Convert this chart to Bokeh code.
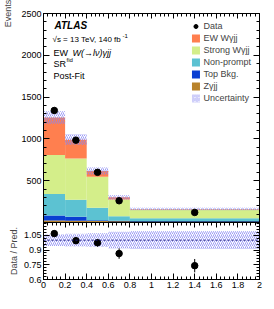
import math
from bokeh.plotting import figure
from bokeh.layouts import column
from bokeh.models import (ColumnDataSource, Label, Legend, LegendItem, LinearAxis,
                          FixedTicker, Range1d, Span)
from bokeh.embed import file_html
from bokeh.resources import INLINE

# ---------------- data ----------------
bin_lo = [0.0, 0.2, 0.4, 0.6, 0.8]
bin_hi = [0.2, 0.4, 0.6, 0.8, 2.0]
bin_center = [0.1, 0.3, 0.5, 0.7, 1.4]
zgamma = [25, 22, 18, 15, 10]
top_bkg = [60, 46, 8, 6, 4]
non_prompt = [256, 204, 150, 55, 38]
strong = [465, 493, 370, 200, 104]
ew = [450, 225, 70, 25, 6]
data = [1340, 985, 600, 260, 120]
data_err = [37, 31, 24, 16, 11]
syst_rel = [0.06, 0.065, 0.07, 0.085, 0.09]

main_yticks = [0, 500, 1000, 1500, 2000, 2500]
main_ylabels = ["", "500", "1000", "1500", "2000", "2500"]
ratio_yticks = [0.6, 0.75, 0.9, 1.05]
ratio_ylabels = ["0.6", "0.75", "0.9", "1.05"]
xticks = [0, 0.2, 0.4, 0.6, 0.8, 1.0, 1.2, 1.4, 1.6, 1.8, 2.0]
xlabels = ["0", "0.2", "0.4", "0.6", "0.8", "1", "1.2", "1.4", "1.6", "1.8", "2"]

names = ["Zγjj", "Top Bkg.", "Non-prompt", "Strong Wγjj", "EW Wγjj"]
colors = ["#b8822b", "#0a3fd2", "#5cc2d2", "#d4ee8a", "#ff7f4f"]
layers = [zgamma, top_bkg, non_prompt, strong, ew]

FONT = "Liberation Sans"
FS = "9px"
HATCH = "#8484f2"

x_minor = [i * 0.04 for i in range(51)]
main_minor = list(range(0, 2501, 100))
ratio_minor = [0.6 + i * 0.03 for i in range(20)]

# ---------------- main panel ----------------
p = figure(width=274, height=222, output_backend="svg", toolbar_location=None,
           x_range=Range1d(0, 2), y_range=Range1d(0, 2500),
           min_border_left=39, min_border_right=15, min_border_top=13, min_border_bottom=0)
p.grid.visible = False
p.outline_line_color = "black"

cum = [0.0] * len(bin_lo)
layer_renderers = []
for vals, col in zip(layers, colors):
    bottom = list(cum)
    top = [c + v for c, v in zip(cum, vals)]
    src = ColumnDataSource(dict(left=bin_lo, right=bin_hi, bottom=bottom, top=top))
    rr_ = p.quad(left="left", right="right", bottom="bottom", top="top", source=src,
                 fill_color=col, line_color=None)
    layer_renderers.append(rr_)
    cum = top
total = cum

band_src = ColumnDataSource(dict(left=bin_lo, right=bin_hi,
                                 bottom=[t * (1 - u) for t, u in zip(total, syst_rel)],
                                 top=[t * (1 + u) for t, u in zip(total, syst_rel)]))
band_r = p.quad(left="left", right="right", bottom="bottom", top="top", source=band_src,
                fill_alpha=0, line_color=None, hatch_pattern="/", hatch_color=HATCH,
                hatch_scale=4, hatch_weight=0.8)

dsrc = ColumnDataSource(dict(x=bin_center, y=data,
                             lo=[d - e for d, e in zip(data, data_err)],
                             hi=[d + e for d, e in zip(data, data_err)]))
p.segment(x0="x", x1="x", y0="lo", y1="hi", source=dsrc, line_color="black", line_width=1)
data_r = p.scatter(x="x", y="y", source=dsrc, size=6.5, color="black")


def style_axis(ax, ticks, labels=None):
    ax.axis_line_color = "black"
    ax.major_tick_in = 6
    ax.major_tick_out = 0
    ax.minor_tick_in = 3
    ax.minor_tick_out = 0
    ax.major_tick_line_color = "black"
    ax.minor_tick_line_color = "black"
    ax.major_label_text_font = FONT
    ax.major_label_text_color = "black"
    if "background_fill_alpha" in ax.properties():
        ax.background_fill_alpha = 0
    if labels is None:
        ax.major_label_overrides = {t: "" for t in ticks}
        ax.major_label_text_font_size = "1px"
        ax.major_label_standoff = 0
    else:
        ax.major_label_overrides = {t: l for t, l in zip(ticks, labels)}
        ax.major_label_text_font_size = FS
        ax.major_label_standoff = 2


p.yaxis.ticker = FixedTicker(ticks=main_yticks, minor_ticks=main_minor)
style_axis(p.yaxis[0], main_yticks, main_ylabels)
p.xaxis.visible = False

ya = p.yaxis[0]
events_done = False
if "axis_label_align" in ya.properties():
    for choice in ("end", "right"):
        try:
            ya.axis_label_align = choice
            events_done = True
            break
        except Exception:
            pass
if events_done:
    ya.axis_label = "Events"
    ya.axis_label_text_font = FONT
    ya.axis_label_text_font_size = FS
    ya.axis_label_text_font_style = "normal"
    ya.axis_label_standoff = 5

ax_r = LinearAxis(ticker=FixedTicker(ticks=main_yticks, minor_ticks=main_minor))
style_axis(ax_r, main_yticks)
p.add_layout(ax_r, "right")
ax_t = LinearAxis(ticker=FixedTicker(ticks=xticks, minor_ticks=x_minor))
style_axis(ax_t, xticks)
ax_t.major_tick_in = 5
p.add_layout(ax_t, "above")

# legend
items = [LegendItem(label="Data", renderers=[data_r])]
for i in [4, 3, 2, 1, 0]:
    items.append(LegendItem(label=names[i], renderers=[layer_renderers[i]]))
items.append(LegendItem(label="Uncertainty", renderers=[band_r]))
leg = Legend(items=items, location="top_right", margin=8, padding=0, spacing=2,
             glyph_width=10, glyph_height=10, label_height=10, label_standoff=3,
             label_text_font=FONT, label_text_font_size=FS, background_fill_alpha=0,
             border_line_color=None)
p.add_layout(leg)


def lab(fig, text, x, y, xo, yo, size=FS, style="normal", align="left", baseline="middle", angle=0):
    fig.add_layout(Label(x=x, y=y, x_offset=xo, y_offset=yo, text=text, text_font=FONT,
                         text_font_size=size, text_font_style=style, text_align=align,
                         text_baseline=baseline, angle=angle, text_color="black",
                         level="overlay"))


lab(p, "ATLAS", 0, 2500, 11, -12, size="10px", style="bold italic")
lab(p, "√s = 13 TeV, 140 fb", 0, 2500, 9, -26, size="8px")
lab(p, "-1", 0, 2500, 79, -22, size="6px")
lab(p, "EW", 0, 2500, 10, -39)
lab(p, "W(→lν)γjj", 0, 2500, 29, -39, style="italic")
lab(p, "SR", 0, 2500, 10, -50)
lab(p, "fid", 0, 2500, 23, -46, size="6px")
lab(p, "Post-Fit", 0, 2500, 10, -62)
if not events_done:
    lab(p, "Events", 0.02, 2400, -34, 2, align="center", angle=math.pi / 2)
lab(p, "0", 0.02, 24, -4, -1, align="right", baseline="bottom")

# ---------------- ratio panel ----------------
r = figure(width=274, height=87, output_backend="svg", toolbar_location=None,
           x_range=p.x_range, y_range=Range1d(0.6, 1.18),
           min_border_left=39, min_border_right=15, min_border_top=0, min_border_bottom=30)
r.grid.visible = False
r.outline_line_color = "black"

rb_src = ColumnDataSource(dict(left=bin_lo, right=bin_hi,
                               bottom=[1 - u for u in syst_rel], top=[1 + u for u in syst_rel]))
r.quad(left="left", right="right", bottom="bottom", top="top", source=rb_src,
       fill_alpha=0, line_color=None, hatch_pattern="/", hatch_color=HATCH,
       hatch_scale=4, hatch_weight=0.8)
r.add_layout(Span(location=1.0, dimension="width", line_color="#1a1a80", line_dash="2 2",
                  line_width=1))
ratio = [d / t for d, t in zip(data, total)]
ratio_err = [e / t for e, t in zip(data_err, total)]
rsrc = ColumnDataSource(dict(x=bin_center, y=ratio,
                             lo=[a - b for a, b in zip(ratio, ratio_err)],
                             hi=[a + b for a, b in zip(ratio, ratio_err)]))
r.segment(x0="x", x1="x", y0="lo", y1="hi", source=rsrc, line_color="black", line_width=1)
r.scatter(x="x", y="y", source=rsrc, size=6.5, color="black")

r.yaxis.ticker = FixedTicker(ticks=ratio_yticks, minor_ticks=ratio_minor)
style_axis(r.yaxis[0], ratio_yticks, ratio_ylabels)
r.yaxis.axis_label = "Data / Pred."
r.yaxis.axis_label_text_font = FONT
r.yaxis.axis_label_text_font_size = FS
r.yaxis.axis_label_text_font_style = "normal"
r.yaxis.axis_label_standoff = 2
r.xaxis.ticker = FixedTicker(ticks=xticks, minor_ticks=x_minor)
style_axis(r.xaxis[0], xticks, xlabels)
rr = LinearAxis(ticker=FixedTicker(ticks=ratio_yticks, minor_ticks=ratio_minor))
style_axis(rr, ratio_yticks)
r.add_layout(rr, "right")
rt = LinearAxis(ticker=FixedTicker(ticks=xticks, minor_ticks=x_minor))
style_axis(rt, xticks)
rt.major_tick_in = 5
r.add_layout(rt, "above")

lab(r, "ξ", 2.0, 0.6, -5, -16, align="center")
lab(r, "Wγ", 2.0, 0.6, -1, -20, size="6px", align="center")

layout = column(p, r, spacing=0)
open("out.html", "w").write(file_html(layout, INLINE))
